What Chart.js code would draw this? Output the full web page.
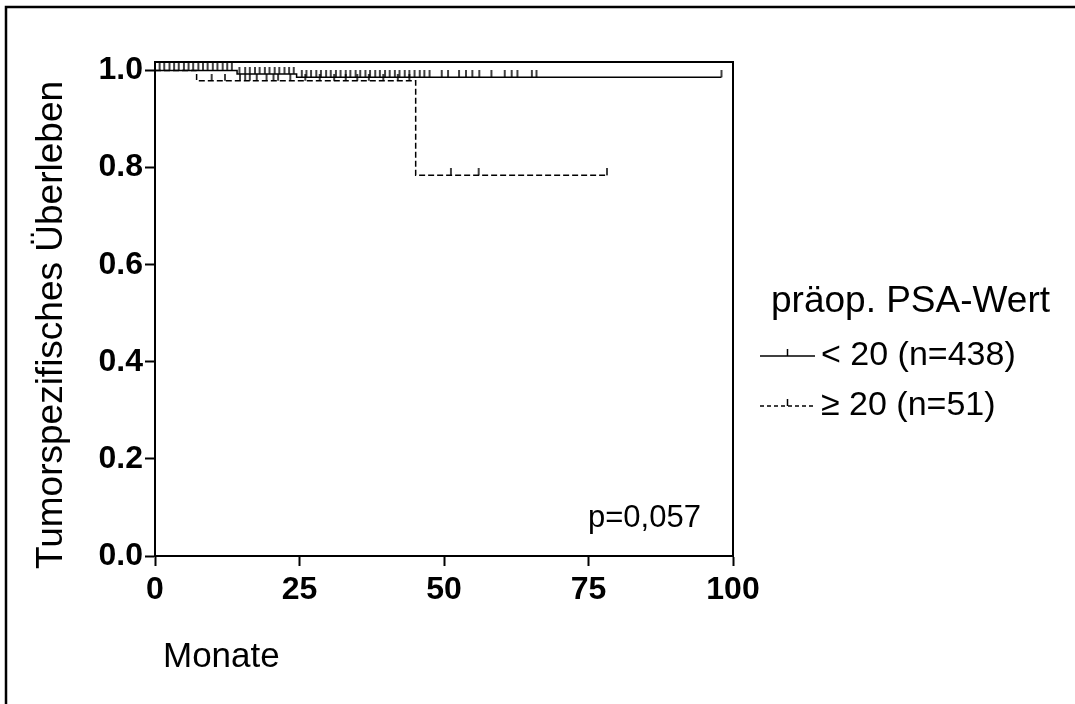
<!DOCTYPE html>
<html>
<head>
<meta charset="utf-8">
<script src="https://cdn.jsdelivr.net/npm/chart.js@4/dist/chart.umd.min.js"></script>
<style>
  html, body { margin: 0; padding: 0; background: #fff; }
  #wrap { width: 1075px; height: 704px; position: relative; }
</style>
</head>
<body>
<div id="wrap"><canvas id="c" width="1075" height="704"></canvas></div>
<script>
// ---------- data ----------
const xTickValues = [0, 25, 50, 75, 100];
const yTickValues = [0, 0.2, 0.4, 0.6, 0.8, 1.0];

// Kaplan-Meier step curve, group "< 20 (n=438)"
const lowTimes    = [0, 14.2, 24.5, 98];
const lowSurvival = [1.0, 0.993, 0.986, 0.986];
const lowCensored = [0.8, 1.6, 2.5, 3.3, 4.1, 5.0, 5.8, 6.6, 7.5, 8.3, 9.1, 10.0, 10.8, 11.7, 12.5, 13.3,
  14.6, 15.6, 16.4, 17.3, 18.1, 19.0, 19.8, 20.7, 21.5, 22.4, 23.2, 24.0,
  25.4, 26.2, 27.0, 27.9, 28.7, 29.6, 30.4, 31.3, 32.1, 33.0, 33.8, 34.7, 35.5, 36.4, 37.2,
  38.1, 38.9, 39.8, 40.6, 41.5, 42.3, 43.2, 44.0, 44.9, 45.8, 46.6, 47.5,
  49.6, 50.7, 52.6, 53.8, 54.9, 56.1, 58.2, 60.5, 61.7, 62.7, 65.2, 66.0, 98];

// Kaplan-Meier step curve, group ">= 20 (n=51)"
const highTimes    = [0, 7.2, 45.1, 78.2];
const highSurvival = [1.0, 0.979, 0.784, 0.784];
const highCensored = [9.8, 12.1, 14.7, 15.6, 16.4, 17.6, 19.3, 20.5, 21.3, 23.4, 26.0, 28.5, 31.0,
  33.0, 35.0, 37.0, 39.5, 42.0, 44.0, 51.2, 56.0, 78.2];

const seriesLabels = ['< 20 (n=438)', '\u2265 20 (n=51)'];
const legendTitle = 'präop. PSA-Wert';
const xTitle = 'Monate';
const yTitle = 'Tumorspezifisches Überleben';
const pText = 'p=0,057';

// ---------- helpers ----------
function survivalAt(times, surv, t) {
  let s = surv[0];
  for (let i = 0; i < times.length; i++) { if (times[i] <= t) s = surv[i]; }
  return s;
}
function toPoints(xs, ys) { return xs.map((x, i) => ({ x: x, y: ys[i] })); }
function censorPoints(times, surv, cens) { return cens.map(t => ({ x: t, y: survivalAt(times, surv, t) })); }

function tickImage(len, lw) {
  const c = document.createElement('canvas');
  c.width = 4; c.height = len * 2;
  const g = c.getContext('2d');
  g.strokeStyle = '#000'; g.lineWidth = lw;
  g.beginPath(); g.moveTo(2, 0); g.lineTo(2, len); g.stroke();
  return c;
}
const censorMark = tickImage(7, 1.5);

const FONT = "'Liberation Sans', Arial, Helvetica, sans-serif";

// ---------- plugin: frames, titles, legend, p-value ----------
const decor = {
  id: 'decor',
  afterDraw(chart) {
    const ctx = chart.ctx, a = chart.chartArea;
    ctx.save();
    // outer frame
    ctx.strokeStyle = '#000'; ctx.lineWidth = 2.5;
    ctx.beginPath(); ctx.moveTo(6, 710); ctx.lineTo(6, 7); ctx.lineTo(1080, 7); ctx.stroke();
    // plot box top / right
    ctx.lineWidth = 2;
    ctx.beginPath(); ctx.moveTo(a.left, a.top); ctx.lineTo(a.right, a.top); ctx.lineTo(a.right, a.bottom); ctx.stroke();

    ctx.fillStyle = '#000';
    ctx.textBaseline = 'middle'; ctx.textAlign = 'left';
    // axis titles
    ctx.font = '35px ' + FONT;
    ctx.fillText(xTitle, a.left + 8, 657);
    ctx.font = '37px ' + FONT;
    ctx.save();
    ctx.translate(52, 325); ctx.rotate(-Math.PI / 2);
    ctx.textAlign = 'center';
    ctx.fillText(yTitle, 0, 0);
    ctx.restore();

    // p-value
    ctx.font = '31px ' + FONT;
    ctx.textAlign = 'left';
    ctx.fillText(pText, 588, 518);

    // legend
    ctx.font = '37px ' + FONT;
    ctx.fillText(legendTitle, 771, 302);
    ctx.font = '34px ' + FONT;
    ctx.fillText(seriesLabels[0], 821, 356);
    ctx.fillText(seriesLabels[1], 821, 406);
    ctx.lineWidth = 1.5;
    ctx.beginPath(); ctx.moveTo(760, 356); ctx.lineTo(815, 356); ctx.stroke();
    ctx.beginPath(); ctx.moveTo(787.5, 356); ctx.lineTo(787.5, 349); ctx.stroke();
    ctx.setLineDash([4, 3]);
    ctx.beginPath(); ctx.moveTo(760, 406); ctx.lineTo(815, 406); ctx.stroke();
    ctx.setLineDash([]);
    ctx.beginPath(); ctx.moveTo(787.5, 406); ctx.lineTo(787.5, 399); ctx.stroke();
    ctx.restore();
  }
};

new Chart(document.getElementById('c'), {
  type: 'scatter',
  data: {
    datasets: [
      { label: seriesLabels[0], type: 'line', data: toPoints(lowTimes, lowSurvival), stepped: true,
        borderColor: '#000', borderWidth: 1.5, pointRadius: 0, fill: false },
      { label: seriesLabels[1], type: 'line', data: toPoints(highTimes, highSurvival), stepped: true,
        borderColor: '#000', borderWidth: 1.5, borderDash: [6, 3], pointRadius: 0, fill: false },
      { label: 'c1', data: censorPoints(lowTimes, lowSurvival, lowCensored), pointStyle: censorMark, pointRadius: 4 },
      { label: 'c2', data: censorPoints(highTimes, highSurvival, highCensored), pointStyle: censorMark, pointRadius: 4 }
    ]
  },
  options: {
    responsive: false, animation: false, devicePixelRatio: 1,
    layout: { padding: { left: 0, top: 62, right: 342, bottom: 0 } },
    plugins: { legend: { display: false }, tooltip: { enabled: false } },
    scales: {
      x: {
        type: 'linear', min: 0, max: 100,
        afterBuildTicks(s) { s.ticks = xTickValues.map(v => ({ value: v })); },
        afterFit(s) { s.height = 148; },
        grid: { drawOnChartArea: false, drawTicks: true, tickLength: 10, tickColor: '#000', tickWidth: 2 },
        border: { display: true, color: '#000', width: 2 },
        ticks: { color: '#000', font: { family: FONT, size: 32, weight: 'bold' }, padding: 5, maxRotation: 0 }
      },
      y: {
        type: 'linear', min: 0, max: 1.0175,
        afterBuildTicks(s) { s.ticks = yTickValues.map(v => ({ value: v })); },
        afterFit(s) { s.width = 155; },
        grid: { drawOnChartArea: false, drawTicks: true, tickLength: 10, tickColor: '#000', tickWidth: 2 },
        border: { display: true, color: '#000', width: 2 },
        ticks: { color: '#000', font: { family: FONT, size: 32, weight: 'bold' }, padding: 2,
          callback: v => Number(v).toFixed(1) }
      }
    }
  },
  plugins: [decor]
});
</script>
</body>
</html>
